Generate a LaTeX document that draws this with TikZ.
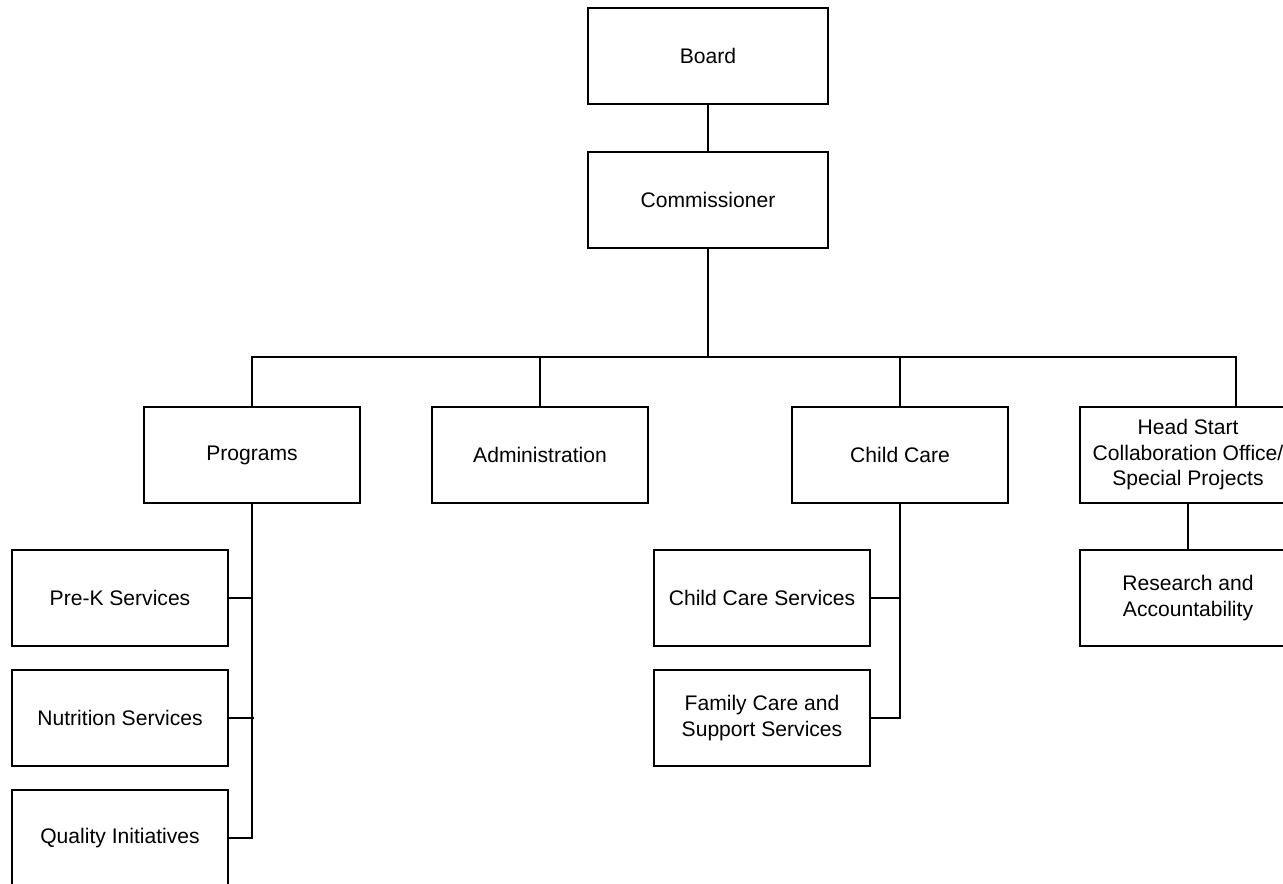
\documentclass[tikz,border=0pt]{standalone}
\usepackage{fontspec}
\setmainfont{Liberation Sans}

\begin{document}
\begin{tikzpicture}[x=0.02cm, y=-0.02cm, line width=0.8pt,
    unit/.style={rectangle, draw, minimum width=4.32cm, minimum height=1.92cm,
      inner sep=0pt, align=center, font=\fontsize{12}{14.5}\selectfont}]

      \useasboundingbox (0,0) rectangle (1283,884);
      \clip (0,0) rectangle (1283,884);

      \node[unit, minimum width=4.8cm] at (708,56) (board) {Board};
      \node[unit, minimum width=4.8cm] at (708,200) (comm) {Commissioner};

      \node[unit] at (252,455) (prog) {Programs};
      \node[unit] at (540,455) (admin) {Administration};
      \node[unit] at (900,455) (cc) {Child Care};
      \node[unit] at (1188,455) (hs) {Head Start\\Collaboration Office/\\Special Projects};

      \node[unit] at (120,598) (prek) {Pre-K Services};
      \node[unit] at (120,718) (nut) {Nutrition Services};
      \node[unit] at (120,838) (qi) {Quality Initiatives};

      \node[unit] at (762,598) (ccs) {Child Care Services};
      \node[unit] at (762,718) (fam) {Family Care and\\Support Services};

      \node[unit] at (1188,598) (res) {Research and\\Accountability};

      \coordinate (bus) at (708,357);
      \coordinate (hsin) at ([xshift=.96cm] hs.north);

      \draw[-] (board.south) to (comm.north);
      \draw[-] (comm.south) to (bus);
      \draw[-] (prog.north) -- (prog.north |- bus) -- (hsin |- bus) -- (hsin);
      \draw[-] (admin.north) to (admin.north |- bus);
      \draw[-] (cc.north) to (cc.north |- bus);

      \draw[-] (prog.south) |- (qi.east);
      \draw[-] (prek.east) to (prek.east -| prog.south);
      \draw[-] (nut.east) to ([xshift=.04cm] nut.east -| prog.south);

      \draw[-] (cc.south) |- (fam.east);
      \draw[-] (ccs.east) to (ccs.east -| cc.south);

      \draw[-] (hs.south) to (res.north);
    \end{tikzpicture}
\end{document}
